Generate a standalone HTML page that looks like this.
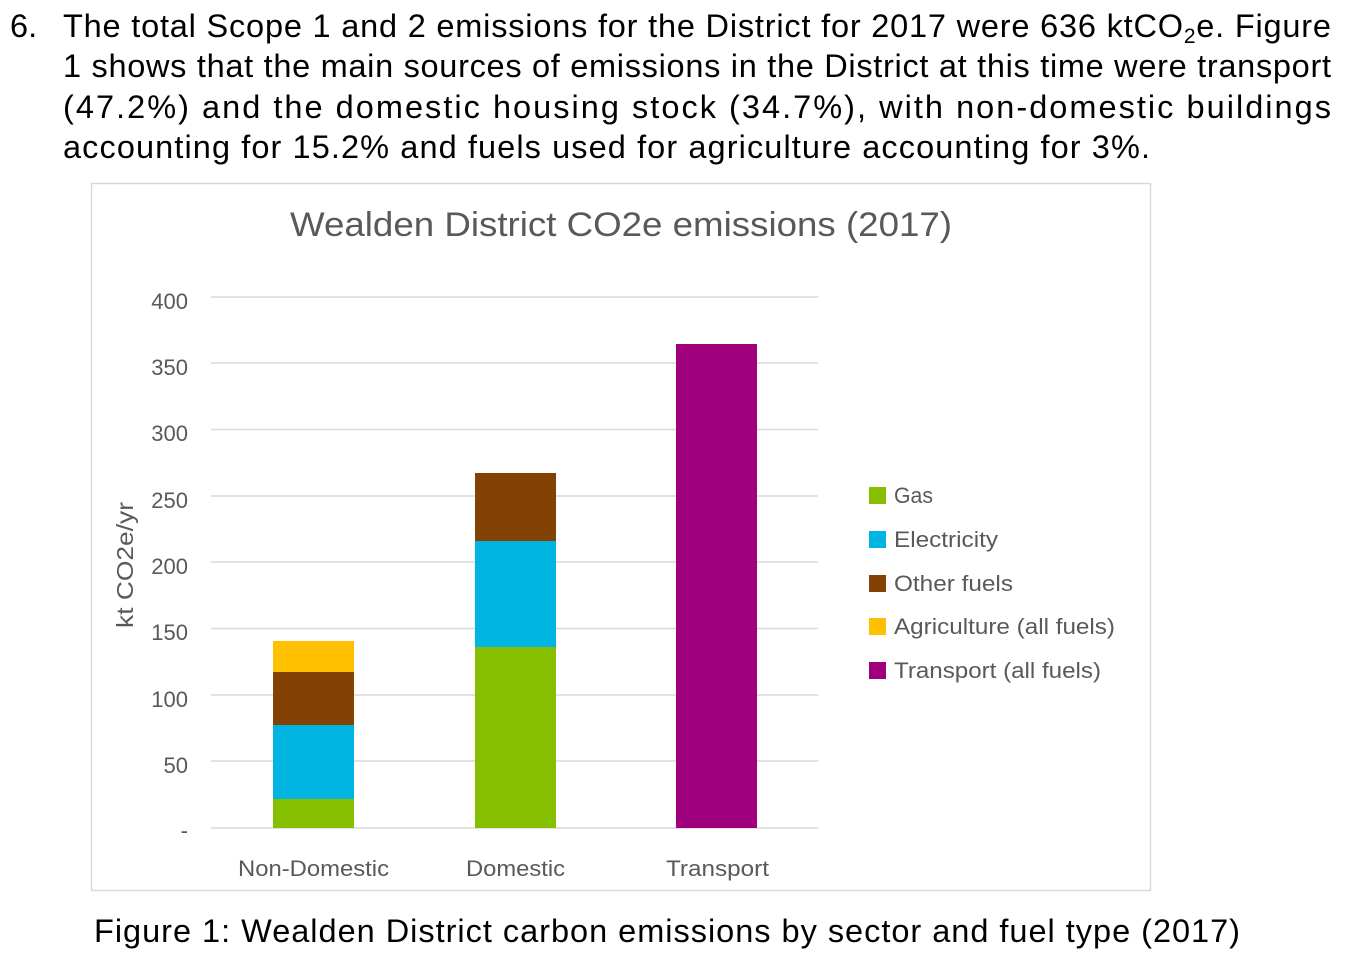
<!DOCTYPE html>
<html><head><meta charset="utf-8"><style>
html,body{margin:0;padding:0;background:#fff;}
svg{display:block;}
</style></head><body>
<svg width="1346" height="967" viewBox="0 0 1346 967" xmlns="http://www.w3.org/2000/svg">
<g font-family="'Liberation Sans', Arial, sans-serif" font-size="32.5" fill="#000">
<text x="10" y="37">6.</text>
<text x="63" y="37" textLength="1268" lengthAdjust="spacing">The total Scope 1 and 2 emissions for the District for 2017 were 636 ktCO<tspan font-size="21" dy="6">2</tspan><tspan dy="-6">e. Figure</tspan></text>
<text x="63" y="77" textLength="1268" lengthAdjust="spacing">1 shows that the main sources of emissions in the District at this time were transport</text>
<text x="63" y="118" textLength="1268" lengthAdjust="spacing">(47.2%) and the domestic housing stock (34.7%), with non-domestic buildings</text>
<text x="63" y="158" textLength="1087" lengthAdjust="spacing">accounting for 15.2% and fuels used for agriculture accounting for 3%.</text>
<text x="94" y="942" textLength="1146" lengthAdjust="spacing">Figure 1: Wealden District carbon emissions by sector and fuel type (2017)</text>
</g>
<rect x="91.5" y="183.5" width="1059" height="707" fill="#fff" stroke="#d9d9d9" stroke-width="1.5"/>
<g font-family="'Liberation Sans', Carlito, sans-serif" fill="#595959">
<text x="621" y="236" font-size="34" text-anchor="middle" textLength="662" lengthAdjust="spacingAndGlyphs">Wealden District CO2e emissions (2017)</text>
<g stroke="#d9d9d9" stroke-width="1.5">
<line x1="211" x2="818" y1="297" y2="297"/>
<line x1="211" x2="818" y1="363" y2="363"/>
<line x1="211" x2="818" y1="429.5" y2="429.5"/>
<line x1="211" x2="818" y1="496" y2="496"/>
<line x1="211" x2="818" y1="562" y2="562"/>
<line x1="211" x2="818" y1="628.5" y2="628.5"/>
<line x1="211" x2="818" y1="695" y2="695"/>
<line x1="211" x2="818" y1="761" y2="761"/>
<line x1="211" x2="818" y1="828" y2="828"/>
</g>
<g font-size="22" text-anchor="end">
<text x="188" y="309">400</text>
<text x="188" y="375">350</text>
<text x="188" y="441">300</text>
<text x="188" y="508">250</text>
<text x="188" y="574">200</text>
<text x="188" y="640">150</text>
<text x="188" y="707">100</text>
<text x="188" y="773">50</text>
<text x="188" y="838">-</text>
</g>
<text transform="translate(133,565) rotate(-90)" font-size="23" text-anchor="middle" textLength="126" lengthAdjust="spacingAndGlyphs">kt CO2e/yr</text>
<g font-size="22">
<text x="238" y="876" textLength="151" lengthAdjust="spacingAndGlyphs">Non-Domestic</text>
<text x="466" y="876" textLength="99" lengthAdjust="spacingAndGlyphs">Domestic</text>
<text x="666" y="876" textLength="103" lengthAdjust="spacingAndGlyphs">Transport</text>
</g>
<rect x="273" y="799" width="81" height="29" fill="#86bf00"/>
<rect x="273" y="725" width="81" height="74" fill="#00b5e2"/>
<rect x="273" y="672" width="81" height="53" fill="#844104"/>
<rect x="273" y="641" width="81" height="31" fill="#ffc000"/>
<rect x="475" y="647" width="81" height="181" fill="#86bf00"/>
<rect x="475" y="541" width="81" height="106" fill="#00b5e2"/>
<rect x="475" y="473" width="81" height="68" fill="#844104"/>
<rect x="676" y="344" width="81" height="484" fill="#a0007b"/>
<g font-size="22">
<rect x="869" y="487" width="17" height="17" fill="#86bf00"/><text x="894" y="503" textLength="39" lengthAdjust="spacingAndGlyphs">Gas</text>
<rect x="869" y="531" width="17" height="17" fill="#00b5e2"/><text x="894" y="547" textLength="104" lengthAdjust="spacingAndGlyphs">Electricity</text>
<rect x="869" y="575" width="17" height="17" fill="#844104"/><text x="894" y="591" textLength="119" lengthAdjust="spacingAndGlyphs">Other fuels</text>
<rect x="869" y="618" width="17" height="17" fill="#ffc000"/><text x="894" y="634" textLength="221" lengthAdjust="spacingAndGlyphs">Agriculture (all fuels)</text>
<rect x="869" y="662" width="17" height="17" fill="#a0007b"/><text x="894" y="678" textLength="207" lengthAdjust="spacingAndGlyphs">Transport (all fuels)</text>
</g>
</g>
</svg>
</body></html>
